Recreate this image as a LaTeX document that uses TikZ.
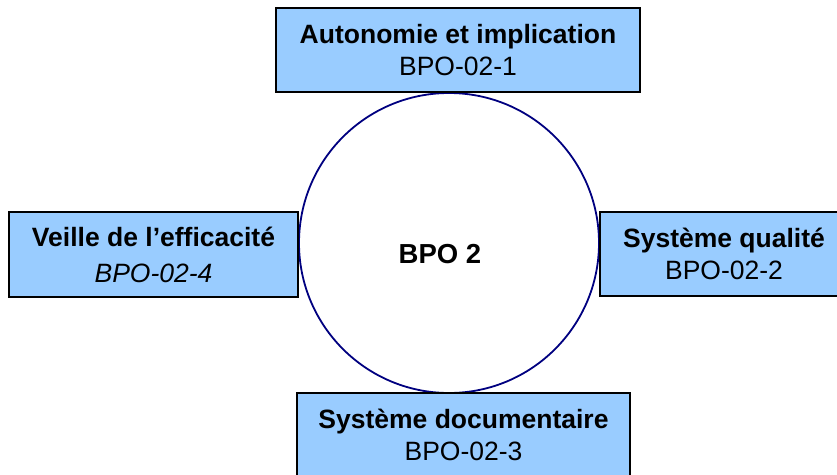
\documentclass[tikz,border=0pt]{standalone}
\usepackage{fontspec}
\setmainfont{Liberation Sans}
\definecolor{boxblue}{HTML}{99CCFF}
\definecolor{ringnavy}{HTML}{000080}
\begin{document}
\begin{tikzpicture}[x=1pt,y=-1pt,
  bpobox/.style={draw=black, line width=1.7pt, fill=boxblue, inner sep=0pt,
    align=center, font=\fontsize{26.5}{32}\selectfont},
  ring/.style={circle, draw=ringnavy, line width=1.8pt, fill=white, inner sep=0pt, minimum size=300pt}]
\useasboundingbox[fill=white] (0,0) rectangle (837,474);
\node[ring] (c) at (449,243) {};
\node[font=\fontsize{27.5}{30}\selectfont\bfseries, anchor=base] (t) at (440,263.5) {BPO 2};
\node[bpobox, minimum width=364pt, minimum height=84pt] (n1) at (458,50)
  {\textbf{Autonomie et implication}\\BPO-02-1};
\node[bpobox, minimum width=248pt, minimum height=84pt] (n2) at (724,254)
  {\textbf{Système qualité}\\BPO-02-2};
\node[bpobox, minimum width=333pt, minimum height=84pt] (n3) at (463.5,435)
  {\textbf{Système documentaire}\\BPO-02-3};
\node[bpobox, minimum width=289pt, minimum height=85pt] (n4) at (153.5,254.5)
  {\textbf{Veille de l’efficacité}\\[4pt]\textit{BPO-02-4}};
\end{tikzpicture}
\end{document}
